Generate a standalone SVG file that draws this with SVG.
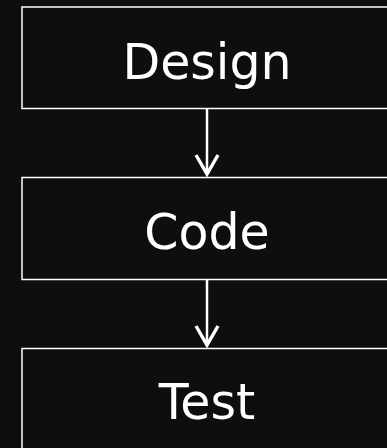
<svg xmlns="http://www.w3.org/2000/svg" width="387" height="448" viewBox="0 0 387 448">
<defs>
<style>
.box rect{fill:#0e0e0e;stroke:#ffffff;stroke-width:1.5}
.box text{fill:#ffffff;font-family:"DejaVu Sans",Verdana,sans-serif;font-size:49px;text-anchor:middle}
.conn line{stroke:#ffffff;stroke-width:2.5}
.conn path{fill:none;stroke:#ffffff;stroke-width:3.4}
</style>
</defs>
<rect x="0" y="0" width="387" height="448" fill="#0e0e0e"/>
<g id="design" class="box"><rect x="22" y="7" width="372" height="101.5"/><text x="207" y="78.5">Design</text></g>
<g id="code" class="box"><rect x="22" y="177.5" width="372" height="102"/><text x="207" y="249">Code</text></g>
<g id="test" class="box"><rect x="22" y="348.5" width="372" height="102"/><text x="207" y="419">Test</text></g>
<g id="connectors" class="conn">
<line x1="207" y1="108.5" x2="207" y2="174"/>
<path d="M196 155 L207 174 L218 155"/>
<line x1="207" y1="279.5" x2="207" y2="345"/>
<path d="M196 326 L207 345 L218 326"/>
</g>
</svg>
